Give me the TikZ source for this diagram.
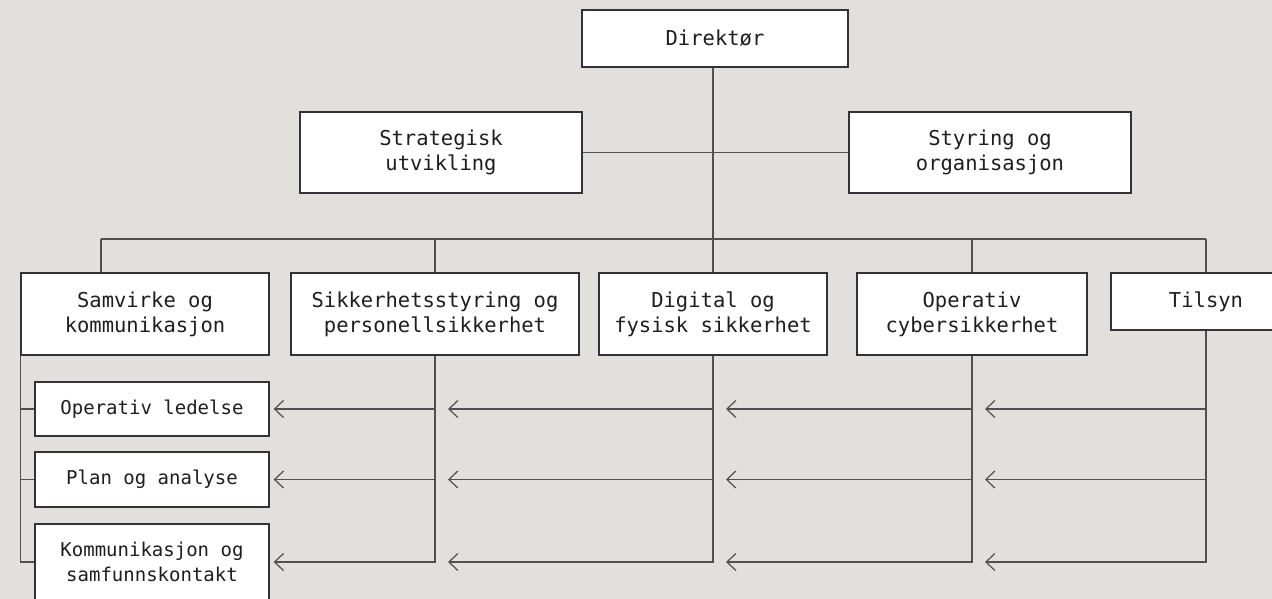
\documentclass[tikz,border=0pt]{standalone}
\usepackage{fontspec}
\newfontfamily\orgfont{DejaVu Sans Mono}
\usetikzlibrary{arrows.meta}
\definecolor{bgc}{HTML}{E1E0DC}
\definecolor{linec}{HTML}{505050}
\definecolor{boxline}{HTML}{333333}
\definecolor{txt}{HTML}{1E1E1E}
\begin{document}
\begin{tikzpicture}[x=1pt,y=-1pt,
  unit/.style={draw=boxline, line width=1.3pt, fill=white, inner sep=0pt, align=center, text=txt,
    font=\orgfont\fontsize{20.5}{25}\selectfont},
  subunit/.style={unit, font=\orgfont\fontsize{19}{25}\selectfont},
  conn/.style={draw=linec, line width=1.5pt},
  arr/.style={conn, -{Straight Barb[length=9pt,width=17pt,line width=1.2pt]}}
]
\useasboundingbox (0,0) rectangle (1272,599);
\clip (0,0) rectangle (1272,599);
\fill[bgc] (0,0) rectangle (1272,599);

% nodes
\node[unit, minimum width=266pt, minimum height=57pt] (dir) at (715,38.5) {Direktør};
\node[unit, minimum width=282pt, minimum height=81pt] (strat) at (441,152.5) {Strategisk\\utvikling};
\node[unit, minimum width=282pt, minimum height=81pt] (styr) at (990,152.5) {Styring og\\organisasjon};

\node[unit, minimum width=248pt, minimum height=82pt] (samv) at (145,314) {Samvirke og\\kommunikasjon};
\node[unit, minimum width=288pt, minimum height=82pt] (sikk) at (435,314) {Sikkerhetsstyring og\\personellsikkerhet};
\node[unit, minimum width=228pt, minimum height=82pt] (digi) at (713,314) {Digital og\\fysisk sikkerhet};
\node[unit, minimum width=230pt, minimum height=82pt] (oper) at (972,314) {Operativ\\cybersikkerhet};
\node[unit, minimum width=190pt, minimum height=57pt] (tils) at (1206,301.5) {Tilsyn};

\node[subunit, minimum width=234pt, minimum height=54pt] (opled) at (152,409) {Operativ ledelse};
\node[subunit, minimum width=234pt, minimum height=55pt] (plan) at (152,479.5) {Plan og analyse};
\node[subunit, minimum width=234pt, minimum height=76pt] (komm) at (152,562) {Kommunikasjon og\\samfunnskontakt};

% top connectors
\coordinate (jC) at (713,239);
\coordinate (jL) at (101,239);
\coordinate (jR) at (tils.north |- jC);
\draw[conn] (jC |- dir.south) -- (digi.north);
\draw[conn] (strat.east) -- (styr.west);
\draw[conn] (jL) -- (jR);
\draw[conn] (jL) -- (jL |- samv.north);
\draw[conn] (sikk.north |- jC) -- (sikk.north);
\draw[conn] (oper.north |- jC) -- (oper.north);
\draw[conn] (jR) -- (tils.north);

% left spine
\coordinate (sp) at (samv.south west);
\draw[conn] (sp) -- (sp |- komm.west) -- (komm.west);
\draw[conn] (sp |- opled.west) -- (opled.west);
\draw[conn] (sp |- plan.west) -- (plan.west);

% tap points on the drop lines
\coordinate (s1) at (sikk.south |- opled.east);
\coordinate (s2) at (sikk.south |- plan.east);
\coordinate (s3) at (sikk.south |- komm.east);
\coordinate (d1) at (digi.south |- opled.east);
\coordinate (d2) at (digi.south |- plan.east);
\coordinate (d3) at (digi.south |- komm.east);
\coordinate (o1) at (oper.south |- opled.east);
\coordinate (o2) at (oper.south |- plan.east);
\coordinate (o3) at (oper.south |- komm.east);
\coordinate (t1) at (tils.south |- opled.east);
\coordinate (t2) at (tils.south |- plan.east);
\coordinate (t3) at (tils.south |- komm.east);

% Sikkerhetsstyring
\draw[arr] (sikk.south) -- (s3) -- ([xshift=4pt]komm.east);
\draw[arr] (s1) -- ([xshift=4pt]opled.east);
\draw[arr] (s2) -- ([xshift=4pt]plan.east);
% Digital
\draw[arr] (digi.south) -- (d3) -- ([xshift=13pt]s3);
\draw[arr] (d1) -- ([xshift=13pt]s1);
\draw[arr] (d2) -- ([xshift=13pt]s2);
% Operativ cyber
\draw[arr] (oper.south) -- (o3) -- ([xshift=13pt]d3);
\draw[arr] (o1) -- ([xshift=13pt]d1);
\draw[arr] (o2) -- ([xshift=13pt]d2);
% Tilsyn
\draw[arr] (tils.south) -- (t3) -- ([xshift=13pt]o3);
\draw[arr] (t1) -- ([xshift=13pt]o1);
\draw[arr] (t2) -- ([xshift=13pt]o2);
\end{tikzpicture}
\end{document}
